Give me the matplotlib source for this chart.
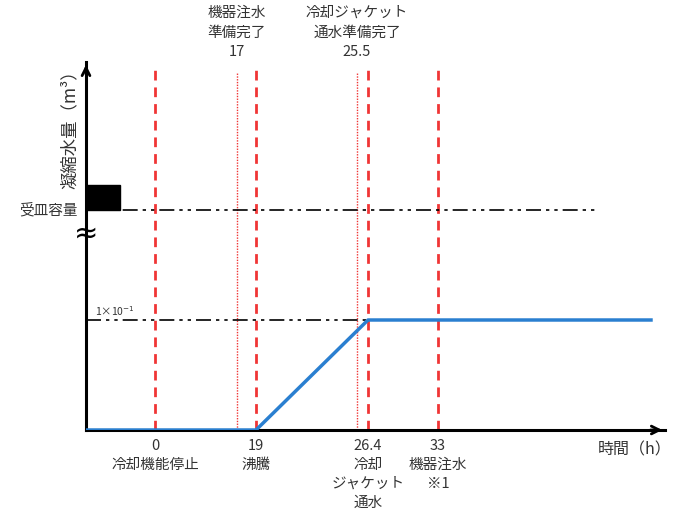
import numpy as np
import matplotlib
matplotlib.use("Agg")
import matplotlib.pyplot as plt
from matplotlib.patches import Rectangle
import matplotlib.transforms as mtransforms

plt.rcParams['font.family'] = ['Noto Sans CJK JP', 'DejaVu Sans']

# ---- data (schematic) ----
# blue curve: condensate volume vs time (h)
curve_t = [-13, 19, 26.4, 68]
curve_v = [0.0, 0.0, 0.1, 0.1]
level_low = 0.1          # 1x10^-1 m3
level_cap = 0.2          # 受皿容量 (schematic, broken axis)
level_low_label = "1×10$^{-1}$"
cap_label = "受皿容量"
cap_line_end = 59

# event times
dashed_t = [0, 19, 26.4, 33]
dashed_labels = ["0\n冷却機能停止", "19\n沸騰", "26.4\n冷却\nジャケット\n通水", "33\n機器注水\n※1"]
dotted_t = [17, 25.5]
dotted_labels = ["機器注水\n準備完了\n17", "冷却ジャケット\n通水準備完了\n25.5"]

xlabel = "時間（h）"
ylabel = "凝縮水量（m³）"

# schematic (non-linear) time axis: knots hours -> position
knot_h = np.array([-13, 0, 17, 19, 25.5, 26.4, 33, 70], dtype=float)
knot_p = np.array([0, 69, 151, 170, 271, 282, 352, 579], dtype=float)

def fwd(h):
    return np.interp(h, knot_h, knot_p)

def inv(p):
    return np.interp(p, knot_p, knot_h)

W, H = 675, 512
fig = plt.figure(figsize=(W / 100, H / 100), dpi=100)
ax = fig.add_axes([86 / W, 82 / H, (665 - 86) / W, (430 - 62) / H])
ax.set_xscale('function', functions=(fwd, inv))
ax.set_xlim(-13, 70)
ymax = (430 - 62) / 1100
ax.set_ylim(0, ymax)

for s in ['top', 'right']:
    ax.spines[s].set_visible(False)
for s in ['left', 'bottom']:
    ax.spines[s].set_linewidth(2.2)
    ax.spines[s].set_color('black')
ax.set_xticks([])
ax.set_yticks([])
ax.patch.set_alpha(0)

# arrowheads
ax.annotate('', xy=(1.0, 0), xytext=(0.97, 0), xycoords='axes fraction',
            arrowprops=dict(arrowstyle='->', lw=2, color='black', mutation_scale=14),
            annotation_clip=False)
ax.annotate('', xy=(0, 1.0), xytext=(0, 0.96), xycoords='axes fraction',
            arrowprops=dict(arrowstyle='->', lw=2, color='black', mutation_scale=14),
            annotation_clip=False)

red = '#f03535'
dash_top = (430 - 66) / 1100
dot_top = (430 - 73) / 1100
for t in dashed_t:
    ax.plot([t, t], [0, dash_top], color=red, lw=2, linestyle=(0, (3.5, 2.5)), zorder=2)
for t in dotted_t:
    ax.plot([t, t], [0, dot_top], color=red, lw=1, linestyle=(0, (1, 1)), zorder=2)

# dash-dot reference lines
dd = (0, (9, 3, 2, 3, 2, 3))
ax.plot([-13, cap_line_end], [level_cap, level_cap], color='black', lw=1.2, linestyle=dd, zorder=3)
ax.plot([-13, 26.4], [level_low, level_low], color='black', lw=1.2, linestyle=dd, zorder=3)

# blue curve
ax.plot(curve_t, curve_v, color='#2a7fd0', lw=2.5, zorder=4, solid_capstyle='butt')

# black block above capacity line
blend = mtransforms.blended_transform_factory(ax.transAxes, ax.transData)
ax.add_patch(Rectangle((0, level_cap), 34 / 579, (211 - 186) / 1100, transform=blend,
                       color='black', zorder=5, clip_on=False))

# axis break mark
ax.text(0, (430 - 234) / 1100, "≈", transform=blend, ha='center', va='center',
        fontsize=21, color='black', zorder=6, family=['DejaVu Sans'])

txtc = '#333333'
fs = 10.5
# labels
ax.text(-0.015, level_cap, cap_label, transform=blend, ha='right', va='center',
        fontsize=fs, color=txtc)
ax.text(0.015, level_low + 0.002, level_low_label, transform=blend, ha='left', va='bottom',
        fontsize=7.5, color=txtc)
ax.text(-0.028, (430 - 125) / 1100, ylabel, transform=blend, ha='center', va='center',
        rotation=90, fontsize=12.5, color=txtc)

xblend = mtransforms.blended_transform_factory(ax.transData, ax.transAxes)
for t, lab in zip(dashed_t, dashed_labels):
    ax.text(t, -9 / 368, lab, transform=xblend, ha='center', va='top',
            fontsize=fs, color=txtc, linespacing=1.45, clip_on=False)
for t, lab in zip(dotted_t, dotted_labels):
    ax.text(t, 1 + 3 / 368, lab, transform=xblend, ha='center', va='bottom',
            fontsize=fs, color=txtc, linespacing=1.5, clip_on=False)

fig.text(598 / W, 1 - 450 / H, xlabel, ha='left', va='center', fontsize=11.5, color=txtc)

fig.savefig('out.png', dpi=100)
